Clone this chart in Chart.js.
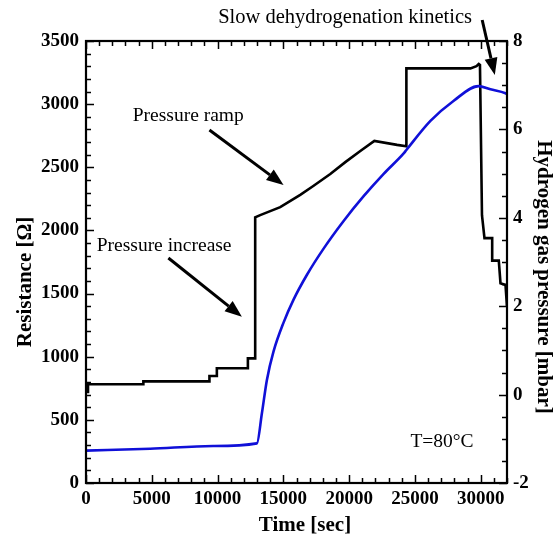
<!DOCTYPE html>
<html>
<head>
<meta charset="utf-8">
<script src="https://cdn.jsdelivr.net/npm/chart.js@4/dist/chart.umd.min.js"></script>
<style>
html,body{margin:0;padding:0;background:#fff;}
#wrap{width:559px;height:537px;}
</style>
</head>
<body>
<div id="wrap"><canvas id="c" width="559" height="537"></canvas></div>
<script>
// ---- data ----
const resistanceTime   = [0, 4870, 9665, 12990, 13370, 13750, 14250, 15015, 15776, 16796, 18059, 19581, 21103, 22625, 24147, 24352, 26180, 27930, 29830, 30744, 31886, 32000];
const resistanceValues = [256, 271, 293, 314, 552, 816, 1040, 1270, 1452, 1649, 1856, 2075, 2271, 2448, 2610, 2637, 2867, 3025, 3143, 3117, 3086, 3080];

const pressureTime   = [0, 114, 152, 4360, 4360, 9383, 9383, 9946, 9946, 12305, 12305, 12860, 12860, 13240, 14763, 16285, 17275, 18568, 19710, 20851, 21917, 23644, 24352, 24352, 29222, 29680, 29855, 29945, 30098, 30288, 30874, 30874, 31376, 31505, 31886, 32000];
const pressureValues = [0.06, 0.06, 0.233, 0.233, 0.30, 0.30, 0.42, 0.42, 0.595, 0.595, 0.82, 0.82, 4.01, 4.06, 4.24, 4.52, 4.72, 4.99, 5.26, 5.51, 5.74, 5.65, 5.62, 7.38, 7.38, 7.43, 7.48, 7.46, 4.06, 3.54, 3.54, 3.03, 3.03, 2.52, 2.48, 1.99];

const timeTicks       = [0, 5000, 10000, 15000, 20000, 25000, 30000];
const resistanceTicks = [0, 500, 1000, 1500, 2000, 2500, 3000, 3500];
const pressureTicks   = [-2, 0, 2, 4, 6, 8];

const xTitle  = 'Time [sec]';
const yTitle  = 'Resistance [Ω]';
const y2Title = 'Hydrogen gas pressure [mbar]';
const noteSlow     = 'Slow dehydrogenation kinetics';
const noteRamp     = 'Pressure ramp';
const noteIncrease = 'Pressure increase';
const noteTemp     = 'T=80°C';

// ---- helpers ----
const SERIF = "'Liberation Serif', 'Times New Roman', serif";
const tickFont = {family: SERIF, size: 19, weight: 'bold'};

function toPoints(xs, ys) { return xs.map((x, i) => ({x: x, y: ys[i]})); }

function arrow(ctx, x1, y1, x2, y2) {
  const ang = Math.atan2(y2 - y1, x2 - x1);
  const headLen = 17, headHalf = 6.5;
  const bx = x2 - headLen * Math.cos(ang), by = y2 - headLen * Math.sin(ang);
  ctx.beginPath();
  ctx.moveTo(x1, y1);
  ctx.lineTo(bx, by);
  ctx.lineWidth = 3;
  ctx.stroke();
  ctx.beginPath();
  ctx.moveTo(x2, y2);
  ctx.lineTo(bx + headHalf * Math.sin(ang), by - headHalf * Math.cos(ang));
  ctx.lineTo(bx - headHalf * Math.sin(ang), by + headHalf * Math.cos(ang));
  ctx.closePath();
  ctx.fill();
}

const decorPlugin = {
  id: 'decor',
  afterDraw(chart) {
    const ctx = chart.ctx;
    const {left, right, top, bottom} = chart.chartArea;
    const xs = chart.scales.x, ys = chart.scales.y, y2s = chart.scales.y2;
    ctx.save();
    ctx.strokeStyle = '#000';
    ctx.fillStyle = '#000';
    ctx.lineCap = 'butt';

    // inward ticks
    ctx.lineWidth = 1.5;
    ctx.beginPath();
    for (let v = 0; v <= xs.max + 1e-6; v += 1000) {
      const px = Math.round(xs.getPixelForValue(v)) + 0.5;
      const len = (v % 5000 === 0) ? 8 : 5;
      ctx.moveTo(px, bottom); ctx.lineTo(px, bottom - len);
      ctx.moveTo(px, top); ctx.lineTo(px, top + len);
    }
    for (let v = 0; v <= 3500 + 1e-6; v += 100) {
      const py = Math.round(ys.getPixelForValue(v)) + 0.5;
      const len = (v % 500 === 0) ? 8 : 5;
      ctx.moveTo(left, py); ctx.lineTo(left + len, py);
    }
    for (let v = -2; v <= 8 + 1e-6; v += 0.5) {
      const py = Math.round(y2s.getPixelForValue(v)) + 0.5;
      const len = (Math.abs(v % 2) < 1e-6) ? 8 : 5;
      ctx.moveTo(right, py); ctx.lineTo(right - len, py);
    }
    ctx.stroke();

    // frame
    ctx.lineWidth = 2.2;
    ctx.strokeRect(left, top, right - left, bottom - top);

    // axis titles
    ctx.font = 'bold 21px ' + SERIF;
    ctx.textAlign = 'center';
    ctx.textBaseline = 'alphabetic';
    ctx.fillText(xTitle, 305, 531);

    ctx.save();
    ctx.translate(31, 282);
    ctx.rotate(-Math.PI / 2);
    ctx.fillText(yTitle, 0, 0);
    ctx.restore();

    ctx.save();
    ctx.translate(538, 277);
    ctx.rotate(Math.PI / 2);
    ctx.fillText(y2Title, 0, 0);
    ctx.restore();

    // annotations (anchored in data coordinates: time / resistance)
    const P = (t, r) => [xs.getPixelForValue(t), ys.getPixelForValue(r)];
    ctx.textAlign = 'left';
    ctx.font = '20.5px ' + SERIF;
    let p = P(10045, 3642);
    ctx.fillText(noteSlow, p[0], p[1]);
    ctx.font = '19.5px ' + SERIF;
    p = P(3554, 2866);
    ctx.fillText(noteRamp, p[0], p[1]);
    p = P(814, 1837);
    ctx.fillText(noteIncrease, p[0], p[1]);
    p = P(24656, 287);
    ctx.fillText(noteTemp, p[0], p[1]);

    let a = P(30114, 3666), b = P(31073, 3231);
    arrow(ctx, a[0], a[1], b[0], b[1]);
    a = P(9383, 2795); b = P(15015, 2360);
    arrow(ctx, a[0], a[1], b[0], b[1]);
    a = P(6263, 1782); b = P(11849, 1317);
    arrow(ctx, a[0], a[1], b[0], b[1]);

    ctx.restore();
  }
};

new Chart(document.getElementById('c'), {
  type: 'line',
  data: {
    datasets: [
      {
        label: 'Resistance',
        data: toPoints(resistanceTime, resistanceValues),
        yAxisID: 'y',
        borderColor: '#1010d8',
        borderWidth: 2.6,
        pointRadius: 0,
        cubicInterpolationMode: 'monotone',
        fill: false
      },
      {
        label: 'Pressure',
        data: toPoints(pressureTime, pressureValues),
        yAxisID: 'y2',
        borderColor: '#000',
        borderWidth: 2.6,
        pointRadius: 0,
        tension: 0,
        fill: false
      }
    ]
  },
  options: {
    responsive: false,
    animation: false,
    devicePixelRatio: 1,
    layout: {padding: {top: 41, left: 0, right: 0, bottom: 0}},
    plugins: {legend: {display: false}, tooltip: {enabled: false}},
    scales: {
      x: {
        type: 'linear', position: 'bottom', min: 0, max: 32000,
        afterBuildTicks: s => { s.ticks = timeTicks.map(v => ({value: v})); },
        afterFit: s => { s.height = 54; },
        ticks: {font: tickFont, color: '#000', padding: 5, maxRotation: 0, autoSkip: false, callback: v => String(v)},
        grid: {display: false, drawTicks: false}, border: {display: false}
      },
      y: {
        type: 'linear', position: 'left', min: 0, max: 3500,
        afterBuildTicks: s => { s.ticks = resistanceTicks.map(v => ({value: v})); },
        afterFit: s => { s.width = 86; },
        ticks: {font: tickFont, color: '#000', padding: 7, autoSkip: false, callback: v => String(v)},
        grid: {display: false, drawTicks: false}, border: {display: false}
      },
      y2: {
        type: 'linear', position: 'right', min: -2, max: 8,
        afterBuildTicks: s => { s.ticks = pressureTicks.map(v => ({value: v})); },
        afterFit: s => { s.width = 52; },
        ticks: {font: tickFont, color: '#000', padding: 6, autoSkip: false, callback: v => String(v)},
        grid: {display: false, drawTicks: false}, border: {display: false}
      }
    }
  },
  plugins: [decorPlugin]
});
</script>
</body>
</html>
